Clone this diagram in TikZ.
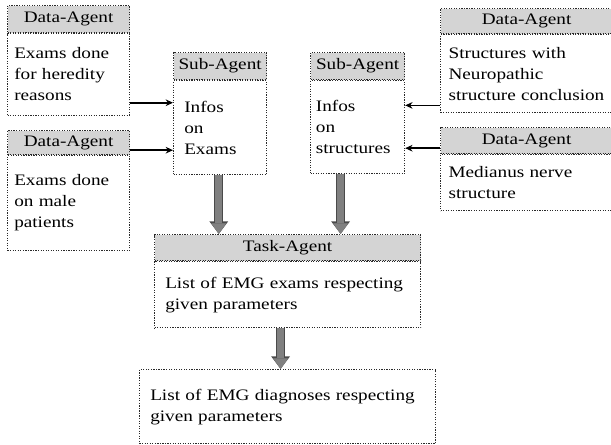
\documentclass[tikz,border=0pt]{standalone}
\usepackage{fontspec}
\setmainfont{Liberation Serif}[FakeStretch=1.2]
\usetikzlibrary{positioning,arrows.meta}
\definecolor{headgray}{HTML}{D4D4D4}
\definecolor{framegray}{HTML}{2A2A2A}
\definecolor{fatgray}{HTML}{808080}
\definecolor{fatedge}{HTML}{4A4A4A}

\tikzset{
  agenthead/.style={draw=framegray, densely dotted, line width=0.9pt, fill=headgray,
    inner sep=0pt, anchor=north west},
  agentbody/.style={draw=framegray, densely dotted, line width=0.9pt, fill=white,
    inner ysep=0pt, inner xsep=5pt, align=left},
  thinarrow/.style={line width=1.2pt, -{Stealth[length=5.5pt,width=5pt]}},
  fatarrow/.style={line width=5pt, draw=fatgray,
    -{Triangle[length=8pt,width=11pt,line width=0.5pt]},
    preaction={draw=fatedge, line width=7pt, -{Triangle[length=9.5pt,width=13.5pt]}}}
}

\begin{document}
\begin{tikzpicture}[x=0.75pt,y=-0.75pt,
  every node/.style={font=\fontsize{12}{15.75}\selectfont}]
\useasboundingbox[fill=white] (0,0) rectangle (611,445);
\clip (0,0) rectangle (611,445);

% left data agents
\node[agenthead, minimum width=91.5pt, minimum height=20.25pt] (da1head) at (7,5) {Data-Agent};
\node[agentbody, text width=81.5pt, minimum height=61pt, below=0pt of da1head] (da1body)
  {Exams done\\for heredity\\reasons};
\node[agenthead, minimum width=91.5pt, minimum height=18pt] (da2head) at (7,130) {Data-Agent};
\node[agentbody, text width=81.5pt, minimum height=71pt, below=0pt of da2head] (da2body)
  {Exams done\\on male\\patients};

% sub agents
\node[agenthead, minimum width=69.75pt, minimum height=20.25pt] (sub1head) at (173,52) {Sub-Agent};
\node[agentbody, inner xsep=8pt, text width=53.75pt, minimum height=70.5pt, below=0pt of sub1head] (sub1body)
  {Infos\\on\\Exams};
\node[agenthead, minimum width=70.5pt, minimum height=20.25pt] (sub2head) at (310,52) {Sub-Agent};
\node[agentbody, inner xsep=4pt, text width=62.5pt, minimum height=69.75pt, below=0pt of sub2head] (sub2body)
  {Infos\\on\\structures};

% right data agents
\node[agenthead, minimum width=129pt, minimum height=18.75pt] (da3head) at (440,8) {Data-Agent};
\node[agentbody, inner xsep=6pt, text width=117pt, minimum height=58.5pt, below=0pt of da3head] (da3body)
  {Structures with\\Neuropathic\\structure conclusion};
\node[agenthead, minimum width=129pt, minimum height=19.5pt] (da4head) at (440,127) {Data-Agent};
\node[agentbody, inner xsep=6pt, text width=117pt, minimum height=42pt, below=0pt of da4head] (da4body)
  {Medianus nerve\\structure};

% task agent and result
\node[agenthead, minimum width=199.5pt, minimum height=19.5pt] (taskhead) at (154,234) {Task-Agent};
\node[agentbody, inner xsep=8pt, text width=183.5pt, minimum height=49.5pt, below=0pt of taskhead] (taskbody)
  {List of EMG exams respecting\\given parameters};
\node[agentbody, anchor=north west, inner xsep=8pt, text width=206pt, minimum height=55.5pt] (result) at (139,369)
  {List of EMG diagnoses respecting\\given parameters};

% thin links
\coordinate (l1) at ([yshift=9.75pt]da1body.south east);
\coordinate (l2) at ([yshift=3.75pt]da2head.south east);
\coordinate (l3) at ([yshift=6pt]da3body.south west);
\coordinate (l4) at ([yshift=4.5pt]da4head.south west);
\draw[thinarrow] (l1) -- (l1 -| sub1body.west);
\draw[thinarrow] (l2) -- (l2 -| sub1body.west);
\draw[thinarrow] (l3) -- (l3 -| sub2body.east);
\draw[thinarrow] (l4) -- (l4 -| sub2body.east);

% fat links
\coordinate (f1) at ([xshift=-1pt]sub1body.south);
\coordinate (f2) at ([xshift=-12.75pt]sub2body.south);
\coordinate (f3) at ([xshift=-5.25pt]taskbody.south);
\draw[fatarrow] (f1) -- (f1 |- taskhead.north);
\draw[fatarrow] (f2) -- (f2 |- taskhead.north);
\draw[fatarrow] (f3) -- (f3 |- result.north);
\end{tikzpicture}
\end{document}
